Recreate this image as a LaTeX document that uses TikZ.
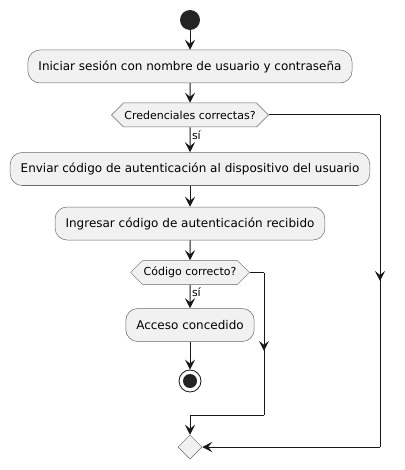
\documentclass[tikz,border=0pt]{standalone}
\usepackage{fontspec}
\setmainfont{DejaVu Sans}
\usetikzlibrary{positioning, arrows.meta, decorations.markings, calc, shapes.geometric, shapes.symbols}
\definecolor{actfill}{HTML}{F1F1F1}
\definecolor{flowline}{HTML}{181818}
\tikzset{
    activity/.style={draw=flowline!65, line width=0.5pt, fill=actfill, rounded corners=12pt,
        minimum height=33pt, inner xsep=10.5pt, font=\fontsize{12}{14}\selectfont},
    decision/.style={shape=signal, signal to=east and west, draw=flowline!65, line width=0.5pt,
        fill=actfill, minimum height=24pt, inner xsep=1pt, inner ysep=0pt, font=\fontsize{11}{13}\selectfont},
    startdot/.style={circle, fill=flowline!95, minimum size=20pt, inner sep=0pt},
    stopdot/.style={circle, draw=flowline, line width=0.8pt, fill=white, minimum size=22pt, inner sep=0pt,
        path picture={\fill[flowline!95] (path picture bounding box.center) circle (7pt);}},
    mergebox/.style={diamond, draw=flowline!65, line width=0.5pt, fill=actfill, minimum size=24pt, inner sep=0pt},
    tip/.tip={Stealth[length=10pt, width=10pt, inset=4pt]},
    wire/.style={draw=flowline, line width=1pt},
    flow/.style={wire, -tip},
    midarrow/.style={postaction={decorate}, decoration={markings,
        mark=at position #1 with {\arrow{tip}}}},
    guard/.style={right, inner sep=1.5pt, font=\fontsize{11}{13}\selectfont}
}
\begin{document}
\begin{tikzpicture}[x=1pt, y=-1pt]
    \def\cx{190}
    \useasboundingbox (0,0) rectangle (404,470);

    % main column
    \node[startdot] (start) at (\cx,20) {};
    \node[activity] (login) at (\cx,66.5) {Iniciar sesión con nombre de usuario y contraseña};
    \node[decision] (credok) at (\cx,115) {Credenciales correctas?};
    \node[activity] (sendcode) at (\cx,169) {Enviar código de autenticación al dispositivo del usuario};
    \node[activity] (entercode) at (\cx,223.5) {Ingresar código de autenticación recibido};
    \node[decision] (codeok) at (\cx,272.5) {Código correcto?};
    \node[activity] (granted) at (\cx,325) {Acceso concedido};
    \node[stopdot] (stop) at (\cx,381) {};
    \node[mergebox] (merge) at (\cx,447) {};

    % straight flow
    \foreach \a/\b in {start/login, login/credok, sendcode/entercode, entercode/codeok, granted/stop}
    {
        \draw[flow] (\a) -- (\b);
    }
    \draw[flow] (credok) -- node[guard, pos=0.32] {sí} (sendcode);
    \draw[flow] (codeok) -- node[guard, pos=0.32] {sí} (granted);

    % else branches
    \coordinate (skipa) at (380,115);
    \coordinate (skipb) at (380,447);
    \coordinate (retrya) at (264,272.5);
    \coordinate (retryb) at (264,415);
    \coordinate (retryc) at (\cx,415);

    \draw[wire] (credok.east) -- (skipa);
    \draw[wire, midarrow=0.5] (skipa) -- (skipb);
    \draw[flow] (skipb) -- (merge.east);

    \draw[wire] (codeok.east) -- (retrya);
    \draw[wire, midarrow=0.55] (retrya) -- (retryb);
    \draw[flow] (retryb) -- (retryc) -- (merge.north);
\end{tikzpicture}
\end{document}
